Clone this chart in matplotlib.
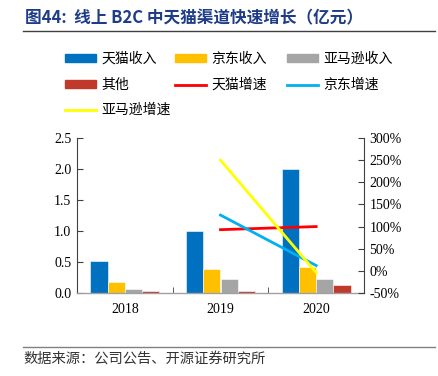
import matplotlib
matplotlib.use("Agg")
import matplotlib.pyplot as plt
import numpy as np
from matplotlib.patches import Patch
from matplotlib.lines import Line2D

plt.rcParams['font.family'] = ['Noto Sans CJK SC', 'DejaVu Sans']

years = ['2018', '2019', '2020']
tmall = [0.52, 1.00, 2.00]
jd = [0.17, 0.38, 0.42]
amazon = [0.07, 0.23, 0.23]
other = [0.03, 0.04, 0.13]
growth_years = [1, 2]
tmall_g = [93, 100]
jd_g = [126, 12]
amazon_g = [250, -4]
left_ticks = [0.0, 0.5, 1.0, 1.5, 2.0, 2.5]
right_ticks = [-50, 0, 50, 100, 150, 200, 250, 300]

c_tmall = '#0070C0'
c_jd = '#FFC000'
c_amz = '#A5A5A5'
c_oth = '#C0392B'
c_tg = '#FF0000'
c_jg = '#00B0F0'
c_ag = '#FFFF00'

W, H = 438, 376
fig = plt.figure(figsize=(W/100, H/100), dpi=100)

ax = fig.add_axes([77/W, 1-293/H, (364-77)/W, (293-138)/H])
x = np.arange(len(years))
bw = 0.18
series = [(tmall, c_tmall, '天猫收入'), (jd, c_jd, '京东收入'),
          (amazon, c_amz, '亚马逊收入'), (other, c_oth, '其他')]
for i, (vals, col, lab) in enumerate(series):
    ax.bar(x + (i - 1.5) * bw, vals, bw, color=col, edgecolor='white', linewidth=0.4, zorder=2)

ax.set_xlim(-0.5, 2.5)
ax.set_ylim(0, 2.5)
ax.set_yticks(left_ticks)
ax.set_yticklabels([f'{v:.1f}' for v in left_ticks], family='Liberation Serif', fontsize=10)
ax.set_xticks(x)
ax.set_xticklabels(years, family='Liberation Serif', fontsize=10)
ax.set_xticks([0.5, 1.5], minor=True)
ax.tick_params(axis='x', which='major', length=0, pad=7)
ax.tick_params(axis='x', which='minor', direction='in', length=4, color='#404040')
ax.tick_params(axis='y', direction='in', length=4, color='#404040', pad=4)
ax.spines['top'].set_visible(False)
ax.spines['right'].set_visible(False)
ax.spines['left'].set_color('#404040')
ax.spines['bottom'].set_color('#A0A0A0')
ax.spines['bottom'].set_linewidth(1.0)

ax2 = ax.twinx()
ax2.plot(growth_years, tmall_g, color=c_tg, lw=2)
ax2.plot(growth_years, jd_g, color=c_jg, lw=2)
ax2.plot(growth_years, amazon_g, color=c_ag, lw=2)
ax2.set_ylim(-50, 300)
ax2.set_yticks(right_ticks)
ax2.set_yticklabels([f'{v}%' for v in right_ticks], family='Liberation Serif', fontsize=10)
ax2.tick_params(axis='y', direction='in', length=4, color='#404040', pad=4)
for s in ['top', 'left', 'bottom']:
    ax2.spines[s].set_visible(False)
ax2.spines['right'].set_color('#404040')

# legend entries placed on a grid
entries = [
    (Patch(color=c_tmall), '天猫收入', 65, 59),
    (Patch(color=c_jd), '京东收入', 175, 59),
    (Patch(color=c_amz), '亚马逊收入', 287, 59),
    (Patch(color=c_oth), '其他', 65, 85),
    (Line2D([], [], color=c_tg, lw=2), '天猫增速', 175, 85),
    (Line2D([], [], color=c_jg, lw=2), '京东增速', 287, 85),
    (Line2D([], [], color=c_ag, lw=2), '亚马逊增速', 65, 110),
]
for h, lab, px, py in entries:
    fig.legend(handles=[h], labels=[lab], loc='center left',
               bbox_to_anchor=(px/W, 1-py/H), frameon=False,
               borderpad=0, borderaxespad=0, handlelength=2.2,
               handleheight=0.5, handletextpad=0.4, fontsize=10)

fig.text(25/W, 1-18/H, '图44:  线上 B2C 中天猫渠道快速增长（亿元）',
         color='#1F3C88', fontsize=12, fontweight='bold', va='center', ha='left')
fig.add_artist(Line2D([23/W, 435/W], [1-31/H, 1-31/H], color='#404040', lw=1))
fig.add_artist(Line2D([23/W, 435/W], [1-347/H, 1-347/H], color='#808080', lw=1))
fig.text(23/W, 1-359/H, '数据来源：公司公告、开源证券研究所', color='#333333',
         fontsize=10.3, va='center', ha='left')

fig.savefig('out.png', dpi=100)
